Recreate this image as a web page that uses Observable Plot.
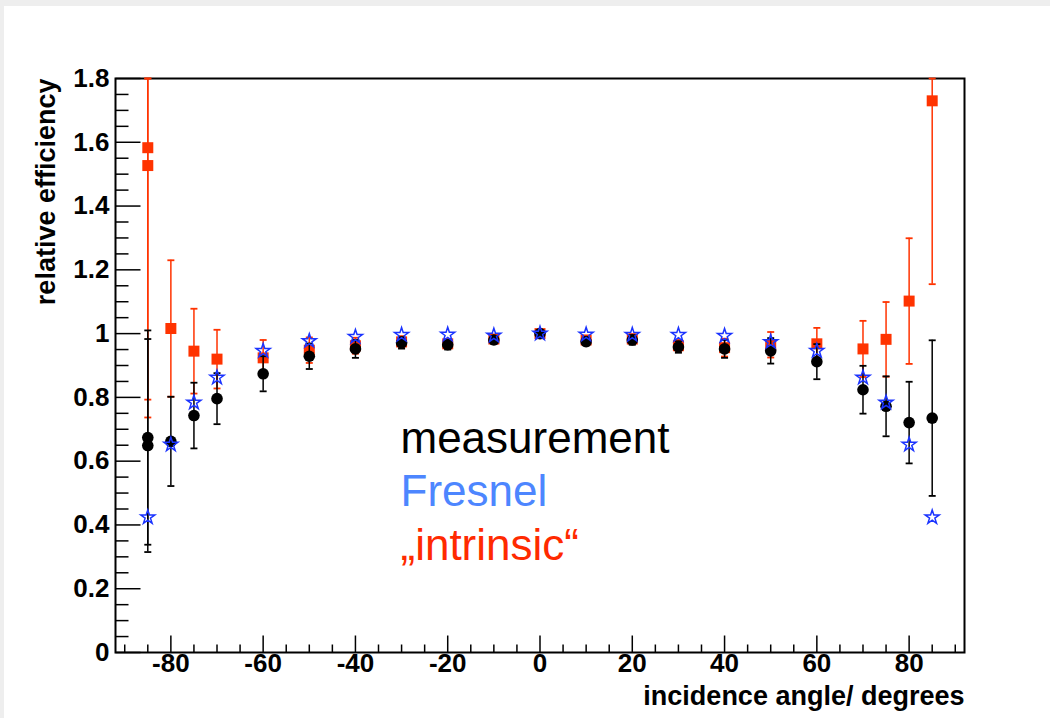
<!DOCTYPE html>
<html>
<head>
<meta charset="utf-8">
<script src="https://cdn.jsdelivr.net/npm/d3@7"></script>
<script src="https://cdn.jsdelivr.net/npm/@observablehq/plot@0.6"></script>
<style>
  html, body { margin: 0; padding: 0; background: #ffffff; }
  #wrap { width: 1050px; height: 718px; background: #eeeeee; padding: 6px 0 0 4px; box-sizing: border-box; overflow: hidden; }
  #wrap svg { background: #ffffff; display: block; }
</style>
</head>
<body>
<div id="wrap"></div>
<script>
// ---- data ----
// measurement (black circles) with errors
const angleMeas = [-85, -85, -80, -75, -70, -60, -50, -40, -30, -20, -10, 0, 10, 20, 30, 40, 50, 60, 70, 75, 80, 85];
const valMeas   = [0.674, 0.649, 0.662, 0.743, 0.796, 0.874, 0.929, 0.952, 0.971, 0.965, 0.980, 1.000, 0.975, 0.980, 0.958, 0.952, 0.946, 0.912, 0.824, 0.772, 0.721, 0.735];
const errMeas   = [0.336, 0.334, 0.140, 0.103, 0.080, 0.055, 0.040, 0.028, 0.018, 0.015, 0.012, 0.010, 0.012, 0.015, 0.018, 0.028, 0.040, 0.055, 0.075, 0.094, 0.128, 0.244];

// "intrinsic" (red squares) with errors
const angleIntr = [-85, -85, -80, -75, -70, -60, -50, -40, -30, -20, -10, 0, 10, 20, 30, 40, 50, 60, 70, 75, 80, 85];
const valIntr   = [1.583, 1.527, 1.016, 0.945, 0.920, 0.924, 0.948, 0.962, 0.974, 0.968, 0.983, 1.000, 0.980, 0.983, 0.962, 0.956, 0.965, 0.968, 0.952, 0.982, 1.102, 1.730];
const errIntr   = [0.790, 0.790, 0.214, 0.133, 0.092, 0.056, 0.040, 0.025, 0.018, 0.015, 0.012, 0.010, 0.012, 0.015, 0.018, 0.028, 0.040, 0.050, 0.088, 0.117, 0.197, 0.575];

// Fresnel (blue open stars)
const angleFres = [-85, -80, -75, -70, -60, -50, -40, -30, -20, -10, 0, 10, 20, 30, 40, 50, 60, 70, 75, 80, 85];
const valFres   = [0.424, 0.652, 0.784, 0.862, 0.946, 0.977, 0.990, 0.996, 0.997, 0.994, 1.000, 0.997, 0.996, 0.996, 0.993, 0.974, 0.946, 0.862, 0.784, 0.652, 0.424];

// axes
const xTicks = [-80, -60, -40, -20, 0, 20, 40, 60, 80];
const xTickLabels = ["-80", "-60", "-40", "-20", "0", "20", "40", "60", "80"];
const yTicks = [0, 0.2, 0.4, 0.6, 0.8, 1, 1.2, 1.4, 1.6, 1.8];
const yTickLabels = ["0", "0.2", "0.4", "0.6", "0.8", "1", "1.2", "1.4", "1.6", "1.8"];
const xLabel = "incidence angle/ degrees";
const yLabel = "relative efficiency";

// legend
const legendLabels = ["measurement", "Fresnel", "\u201Eintrinsic\u201C"];
const legendColors = ["#000000", "#4d86ff", "#ff2a00"];

// ---- build ----
const xDomain = [-92, 92];
const yDomain = [0, 1.8];
const yMax = yDomain[1];

const meas = angleMeas.map((a, i) => ({x: a, y: valMeas[i], lo: Math.max(valMeas[i] - errMeas[i], yDomain[0]), hi: Math.min(valMeas[i] + errMeas[i], yMax)}));
const intr = angleIntr.map((a, i) => ({x: a, y: valIntr[i], lo: Math.max(valIntr[i] - errIntr[i], yDomain[0]), hi: Math.min(valIntr[i] + errIntr[i], yMax)}));
const fres = angleFres.map((a, i) => ({x: a, y: valFres[i]}));

const capsOf = arr => arr.flatMap(d => [{x: d.x, y: d.lo}, {x: d.x, y: d.hi}]);

const hLine = (a, b) => ({draw(ctx) { ctx.moveTo(a, 0); ctx.lineTo(b, 0); }});
const vLine = (a, b) => ({draw(ctx) { ctx.moveTo(0, a); ctx.lineTo(0, b); }});

const xMinor = d3.range(-90, 90.001, 5).filter(v => !xTicks.includes(v));
const yMinor = d3.range(0, 1.8001, 0.05).map(v => +v.toFixed(2)).filter(v => !yTicks.some(t => Math.abs(t - v) < 1e-6));

const RED = "#ff3300";
const BLUE = "#1a33ff";
const FONT = "'Liberation Sans', Arial, Helvetica, sans-serif";

const marks = [
  // ticks
  Plot.dot(yTicks, {y: d => d, frameAnchor: "left", symbol: hLine(0, 25), stroke: "black", fill: "none", strokeWidth: 1.5}),
  Plot.dot(yMinor, {y: d => d, frameAnchor: "left", symbol: hLine(0, 13), stroke: "black", fill: "none", strokeWidth: 1.5}),
  Plot.dot(xTicks, {x: d => d, frameAnchor: "bottom", symbol: vLine(0, -17), stroke: "black", fill: "none", strokeWidth: 1.5}),
  Plot.dot(xMinor, {x: d => d, frameAnchor: "bottom", symbol: vLine(0, -8), stroke: "black", fill: "none", strokeWidth: 1.5}),
  Plot.frame({stroke: "black", strokeWidth: 2}),
  // tick labels
  Plot.text(xTicks, {x: d => d, frameAnchor: "bottom", text: (d, i) => xTickLabels[i], dy: 19, fontSize: 26, fontWeight: "bold", fill: "black", fontFamily: FONT}),
  Plot.text(yTicks, {y: d => d, frameAnchor: "left", text: (d, i) => yTickLabels[i], dx: -6, textAnchor: "end", fontSize: 26, fontWeight: "bold", fill: "black", fontFamily: FONT}),
  // axis titles
  Plot.text([xLabel], {frameAnchor: "bottom-right", text: d => d, textAnchor: "end", dy: 52, fontSize: 27, fontWeight: "bold", fill: "black", fontFamily: FONT}),
  Plot.text([yLabel], {frameAnchor: "top-left", text: d => d, textAnchor: "end", rotate: -90, dx: -80, fontSize: 27, fontWeight: "bold", fill: "black", fontFamily: FONT}),
  // intrinsic
  Plot.ruleX(intr, {x: "x", y1: "lo", y2: "hi", stroke: RED, strokeWidth: 1.5}),
  Plot.dot(capsOf(intr), {x: "x", y: "y", symbol: hLine(-3.5, 3.5), stroke: RED, fill: "none", strokeWidth: 1.8}),
  Plot.dot(intr, {x: "x", y: "y", symbol: "square", r: 6.2, fill: RED, stroke: "none"}),
  // measurement
  Plot.ruleX(meas, {x: "x", y1: "lo", y2: "hi", stroke: "black", strokeWidth: 1.5}),
  Plot.dot(capsOf(meas), {x: "x", y: "y", symbol: hLine(-3.5, 3.5), stroke: "black", fill: "none", strokeWidth: 1.8}),
  Plot.dot(meas, {x: "x", y: "y", symbol: "circle", r: 5.8, fill: "black", stroke: "none"}),
  // Fresnel
  Plot.dot(fres, {x: "x", y: "y", symbol: "star", r: 4.4, fill: "none", stroke: BLUE, strokeWidth: 1.5}),
  // legend
  ...legendLabels.map((t, i) => Plot.text([t], {frameAnchor: "top-left", text: d => d, textAnchor: "start", dx: 285, dy: 343 + i * 53.5, fontSize: 44, fill: legendColors[i], fontFamily: FONT}))
];

const chart = Plot.plot({
  width: 1046,
  height: 712,
  marginLeft: 111,
  marginRight: 86,
  marginTop: 72,
  marginBottom: 66,
  x: {domain: xDomain, axis: null},
  y: {domain: yDomain, axis: null},
  style: {background: "#ffffff", fontFamily: FONT, overflow: "visible"},
  marks
});
document.getElementById("wrap").appendChild(chart);
</script>
</body>
</html>
